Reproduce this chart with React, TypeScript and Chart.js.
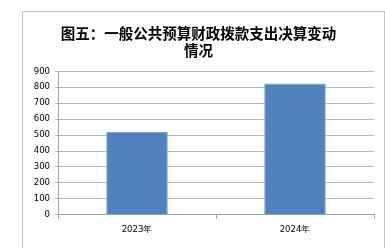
import React, { useEffect, useRef } from "react";
import { Chart, registerables } from "chart.js";

Chart.register(...registerables);

const categories = ["2023年", "2024年"];
const values = [520, 823];
const yTicks = [0, 100, 200, 300, 400, 500, 600, 700, 800, 900];
const titleLines = ["图五：一般公共预算财政拨款支出决算变动", "情况"];

export default function App() {
  const ref = useRef<HTMLCanvasElement | null>(null);
  useEffect(() => {
    if (!ref.current) return;
    const chart = new Chart(ref.current, {
      type: "bar",
      data: {
        labels: categories,
        datasets: [
          {
            data: values,
            backgroundColor: "#4f81bd",
            borderColor: "#7aa3d6",
            borderWidth: 1,
            barPercentage: 0.78,
            categoryPercentage: 0.5,
          },
        ],
      },
      options: {
        animation: false,
        responsive: false,
        maintainAspectRatio: false,
        layout: { padding: { left: 0, right: 9, top: 0, bottom: 7 } },
        plugins: {
          legend: { display: false },
          tooltip: { enabled: false },
          title: {
            display: true,
            text: titleLines,
            color: "#000",
            font: { family: "'Noto Sans CJK SC'", size: 14.5, weight: "bold", lineHeight: 1.15 },
            padding: { top: 13, bottom: 13 },
          },
        },
        scales: {
          x: {
            grid: { display: true, drawOnChartArea: false, drawTicks: true, tickLength: 4, color: "#a0a0a0", offset: true },
            border: { display: true, color: "#a0a0a0" },
            ticks: { color: "#000", font: { family: "'DejaVu Sans'", size: 8.5 }, padding: 6 },
          },
          y: {
            min: 0,
            max: 900,
            afterFit: (s: any) => { s.width = 35; },
            afterBuildTicks: (s: any) => { s.ticks = yTicks.map((v) => ({ value: v })); },
            grid: { color: "#b8b8b8", tickLength: 3, drawTicks: true },
            border: { display: true, color: "#a0a0a0" },
            ticks: { color: "#000", font: { family: "'DejaVu Sans'", size: 8.5 }, padding: 5 },
          },
        },
      },
    });
    return () => chart.destroy();
  }, []);
  return (
    <div style={{ position: "absolute", left: 0, top: 0, width: 385, height: 248, overflow: "hidden", background: "#fff" }}>
      <div style={{ position: "absolute", left: 22, top: 11, width: 363, height: 250, boxSizing: "border-box", border: "1.5px solid #c4c4c4" }}>
        <canvas ref={ref} width={360} height={236} style={{ display: "block" }} />
      </div>
    </div>
  );
}
